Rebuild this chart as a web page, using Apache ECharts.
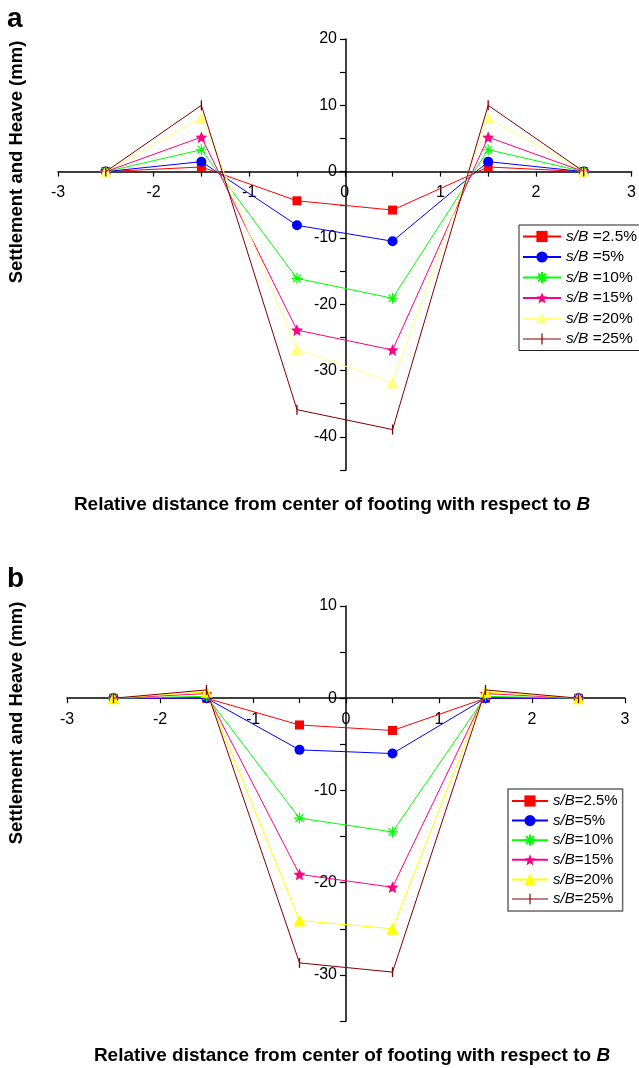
<!DOCTYPE html>
<html>
<head>
<meta charset="utf-8">
<script src="https://cdn.jsdelivr.net/npm/echarts@6/dist/echarts.min.js"></script>
<style>html,body{margin:0;padding:0;background:#fff}#c{width:639px;height:1068px}</style>
</head>
<body>
<div id="c"></div>
<script>
// ---------- data ----------
const xPositions = [-2.5, -1.5, -0.5, 0.5, 1.5, 2.5];
const ratioLabels = ['2.5%', '5%', '10%', '15%', '20%', '25%'];

// panel a
const a_2_5 = [0, 0.7, -4.4, -5.8, 0.7, 0];
const a_5   = [0, 1.5, -8.1, -10.5, 1.5, 0];
const a_10  = [0, 3.3, -16.1, -19.1, 3.3, 0];
const a_15  = [0, 5.2, -23.9, -26.9, 5.2, 0];
const a_20  = [0, 8.1, -26.8, -31.8, 8.1, 0];
const a_25  = [0, 10.0, -35.9, -38.9, 10.0, 0];

// panel b
const b_2_5 = [0, 0.0, -2.9, -3.5, 0.0, 0];
const b_5   = [0, 0.0, -5.6, -6.0, 0.0, 0];
const b_10  = [0, 0.2, -13.0, -14.5, 0.2, 0];
const b_15  = [0, 0.5, -19.1, -20.5, 0.5, 0];
const b_20  = [0, 0.7, -24.1, -25.0, 0.7, 0];
const b_25  = [0, 0.9, -28.7, -29.7, 0.9, 0];

const xTicksMajor = [-3, -2, -1, 0, 1, 2, 3];
const xRange = [-3, 3];
const yRangeA = [-45, 20];
const yRangeB = [-35, 10];

// ---------- styles / layout ----------
const FONT = '"Liberation Sans", Arial, sans-serif';
const STAR = 'path://M10,0L12.6,6.4L19.5,6.9L14.2,11.4L15.9,18.1L10,14.4L4.1,18.1L5.8,11.4L0.5,6.9L7.4,6.4Z';
const ASTER = 'path://M5,0L5,10M0,5L10,5M1.5,1.5L8.5,8.5M1.5,8.5L8.5,1.5';
const TICKBAR = 'path://M0,0L1,0L1,10L0,10Z';
const TICKBAR_LEGEND = 'path://M0,6.5L38,6.5L38,7.5L0,7.5Z M18.4,1.5L19.6,1.5L19.6,12.5L18.4,12.5Z';

const markerDefs = [
  {symbol: 'rect', size: 9, stroke: false},
  {symbol: 'circle', size: 10, stroke: false},
  {symbol: ASTER, size: 11, stroke: true},
  {symbol: STAR, size: 12, stroke: false},
  {symbol: 'triangle', size: 12, stroke: false},
  {symbol: TICKBAR, size: [1.3, 10], stroke: false, legendIcon: TICKBAR_LEGEND}
];
const colorsA = ['#ff0000', '#0000ff', '#00ff00', '#ff0080', '#ffff80', '#800000'];
const colorsB = ['#ff0000', '#0000ff', '#00ff00', '#ff0080', '#ffff00', '#800000'];

const dataA = [a_2_5, a_5, a_10, a_15, a_20, a_25];
const dataB = [b_2_5, b_5, b_10, b_15, b_20, b_25];

const W = 639;
const gridA = {left: 58, right: 5, top: 39, height: 431};
const gridB = {left: 67, right: 14, top: 606, height: 415};

function mkSeries(prefix, arrs, colors, gi) {
  return arrs.map((arr, i) => ({
    name: prefix + ratioLabels[i],
    type: 'line',
    xAxisIndex: gi, yAxisIndex: gi,
    data: xPositions.map((x, k) => [x, arr[k]]),
    symbol: markerDefs[i].symbol,
    symbolSize: markerDefs[i].size,
    showAllSymbol: true,
    color: colors[i],
    lineStyle: {color: colors[i], width: 1},
    itemStyle: markerDefs[i].stroke ? {color: colors[i], borderColor: colors[i], borderWidth: 1.2} : {color: colors[i], borderWidth: 0},
    emphasis: {disabled: true},
    z: 2 + i
  }));
}
function legendData(prefix) {
  return ratioLabels.map((r, i) => markerDefs[i].legendIcon ? {name: prefix + r, icon: markerDefs[i].legendIcon} : {name: prefix + r});
}

// axes crossing at zero: shift the axes from the grid edge to the zero line
function mkX(gi, grid, yr) {
  const zeroFromBottom = grid.height * (0 - yr[0]) / (yr[1] - yr[0]);
  return {
    type: 'value', gridIndex: gi, min: xRange[0], max: xRange[1], interval: 0.5,
    position: 'bottom', offset: -zeroFromBottom,
    axisLine: {onZero: false, lineStyle: {color: '#000', width: 1.5}},
    axisTick: {show: true, inside: false, length: 5, lineStyle: {color: '#000', width: 1.2}},
    axisLabel: {
      fontFamily: FONT, fontSize: 16, color: '#000', margin: 13,
      showMinLabel: true, showMaxLabel: true,
      formatter: v => (xTicksMajor.indexOf(v) >= 0 ? String(v) : '')
    },
    splitLine: {show: false}
  };
}
function mkY(gi, grid, yr) {
  const width = W - grid.left - grid.right;
  const zeroFromLeft = width * (0 - xRange[0]) / (xRange[1] - xRange[0]);
  return {
    type: 'value', gridIndex: gi, min: yr[0], max: yr[1], interval: 5,
    position: 'left', offset: -zeroFromLeft,
    axisLine: {onZero: false, lineStyle: {color: '#000', width: 1.5}},
    axisTick: {show: true, inside: false, length: 6, lineStyle: {color: '#000', width: 1.2}},
    axisLabel: {
      fontFamily: FONT, fontSize: 16, color: '#000', margin: 9,
      showMinLabel: true, showMaxLabel: true,
      formatter: v => (v % 10 === 0 ? String(v) : '')
    },
    splitLine: {show: false}
  };
}

const legendRich = {i: {fontStyle: 'italic', fontFamily: FONT}};
const xTitleRich = {n: {font: 'bold 19px ' + FONT, fill: '#000'}, i: {font: 'italic bold 19px ' + FONT, fill: '#000'}};

const option = {
  animation: false,
  backgroundColor: '#fff',
  grid: [gridA, gridB],
  xAxis: [mkX(0, gridA, yRangeA), mkX(1, gridB, yRangeB)],
  yAxis: [mkY(0, gridA, yRangeA), mkY(1, gridB, yRangeB)],
  legend: [
    {
      data: legendData('a'),
      orient: 'vertical', left: 519, top: 225,
      itemWidth: 38, itemHeight: 14, itemGap: 3.5,
      padding: [3, 30, 3, 3],
      borderColor: '#222', borderWidth: 1, backgroundColor: '#fff',
      textStyle: {fontFamily: FONT, fontSize: 15.5, color: '#000', lineHeight: 17, rich: legendRich},
      formatter: n => '{i|s/B} =' + n.slice(1),
      selectedMode: false
    },
    {
      data: legendData('b'),
      orient: 'vertical', left: 508, top: 789,
      itemWidth: 36, itemHeight: 14, itemGap: 3.6,
      padding: [4, 5, 4, 3],
      borderColor: '#666', borderWidth: 1.5, backgroundColor: '#fff',
      textStyle: {fontFamily: FONT, fontSize: 15, color: '#000', lineHeight: 16, rich: legendRich},
      formatter: n => '{i|s/B}=' + n.slice(1),
      selectedMode: false
    }
  ],
  graphic: [
    {type: 'text', x: 7, y: 19, style: {text: 'a', font: 'bold 28px ' + FONT, fill: '#000', verticalAlign: 'middle'}},
    {type: 'text', x: 7, y: 579, style: {text: 'b', font: 'bold 28px ' + FONT, fill: '#000', verticalAlign: 'middle'}},
    {type: 'text', x: 17, y: 162, rotation: Math.PI / 2, style: {text: 'Settlement and Heave (mm)', font: 'bold 18.5px ' + FONT, fill: '#000', align: 'center', verticalAlign: 'middle'}},
    {type: 'text', x: 17, y: 723, rotation: Math.PI / 2, style: {text: 'Settlement and Heave (mm)', font: 'bold 18.5px ' + FONT, fill: '#000', align: 'center', verticalAlign: 'middle'}},
    {type: 'text', x: 332, y: 505, style: {text: '{n|Relative distance from center of footing with respect to }{i|B}', align: 'center', verticalAlign: 'middle', rich: xTitleRich}},
    {type: 'text', x: 352, y: 1056, style: {text: '{n|Relative distance from center of footing with respect to }{i|B}', align: 'center', verticalAlign: 'middle', rich: xTitleRich}}
  ],
  series: mkSeries('a', dataA, colorsA, 0).concat(mkSeries('b', dataB, colorsB, 1))
};

const chart = echarts.init(document.getElementById('c'), null, {renderer: 'canvas'});
chart.setOption(option);
</script>
</body>
</html>
